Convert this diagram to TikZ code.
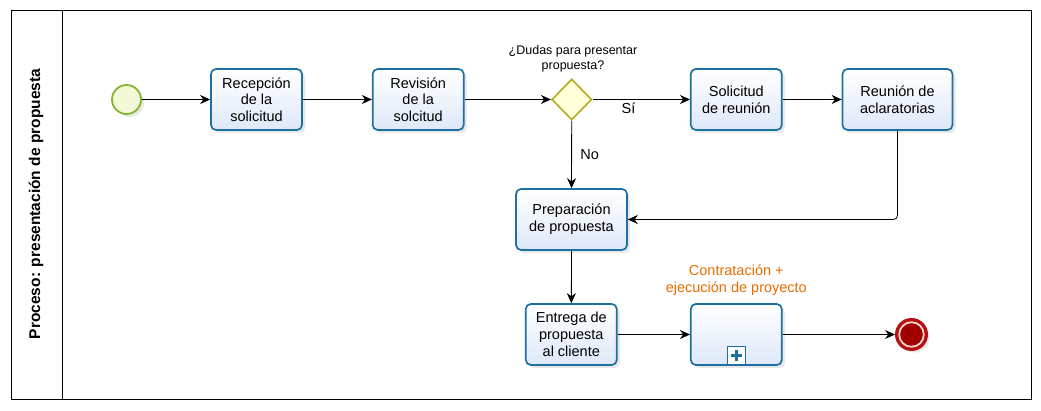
\documentclass[tikz,border=0pt]{standalone}
\usepackage{fontspec}
\setmainfont{Liberation Sans}
\usetikzlibrary{positioning, shapes.geometric, shadows, arrows.meta}

\definecolor{taskline}{RGB}{30,112,162}
\definecolor{taskfill}{RGB}{222,232,249}
\definecolor{startline}{RGB}{134,181,50}
\definecolor{startfill}{RGB}{243,249,214}
\definecolor{gateline}{RGB}{179,172,33}
\definecolor{gatefill}{RGB}{255,255,218}
\definecolor{endfill}{RGB}{160,0,0}
\definecolor{endline}{RGB}{184,16,16}
\definecolor{endring}{RGB}{246,214,214}
\definecolor{labelorange}{RGB}{232,108,0}

\tikzset{
    task/.style={rectangle, rounded corners=5pt, draw=taskline, line width=1.7pt,
        top color=white, bottom color=taskfill, minimum width=91pt, minimum height=61pt,
        align=center, inner sep=2pt, font=\fontsize{14.5}{16.7}\selectfont,
        drop shadow={opacity=0.18, shadow xshift=3pt, shadow yshift=-3pt}},
    startevent/.style={circle, draw=startline, line width=1.8pt, fill=startfill,
        minimum size=29pt, inner sep=0pt,
        drop shadow={opacity=0.18, shadow xshift=3pt, shadow yshift=-3pt}},
    endevent/.style={circle, draw=endline, line width=3pt, fill=endfill,
        minimum size=30pt, inner sep=0pt,
        drop shadow={opacity=0.18, shadow xshift=3pt, shadow yshift=-3pt}},
    gateway/.style={diamond, draw=gateline, line width=1.6pt, fill=gatefill,
        minimum width=40pt, minimum height=41pt, inner sep=0pt},
    flow/.style={-{Stealth[length=10pt, width=9pt]}, line width=0.8pt},
    every edge/.style={draw, flow},
    tasklabel/.style={align=center, font=\fontsize{14.5}{17.5}\selectfont}
}

\begin{document}
\begin{tikzpicture}[x=1pt, y=-1pt, node distance=69pt]

        \useasboundingbox (0,0) rectangle (1041,411);

        % pool
        \draw[line width=0.9pt] (11,10) rectangle (1031,399);
        \draw[line width=0.9pt] (62,10) -- (62,399);
        \node[rotate=90, font=\fontsize{15.5}{18}\selectfont\bfseries] (pool) at (36,204)
            {Proceso: presentación de propuesta};

        % start and first tasks
        \node[startevent] (start) at (126.5,99.5) {};
        \node[task] (recepcion) at (256.5,99.5) {Recepción\\de la\\solicitud};
        \node[task] (revision) [right = 69pt of recepcion] {Revisión\\de la\\solcitud};

        % gateway
        \node[gateway] (dudas) at (571.7,99.5) {};
        \node[align=center, font=\fontsize{12.5}{15}\selectfont] (dudas_label) at (573,59)
            {¿Dudas para presentar\\propuesta?};

        % meeting
        \node[task] (solicitud) at (736.3,99.5) {Solicitud\\de reunión};
        \node[task, minimum width=110pt] (reunion) [right = 59pt of solicitud] {Reunión de\\aclaratorias};

        % proposal
        \node[task, minimum width=111pt] (preparacion) at (571.5,219.5) {Preparación\\de propuesta};
        \node[task] (entrega) at (571.3,334.5) {Entrega de\\propuesta\\al cliente};

        % subprocess
        \node[task] (contratacion) at (736.3,334.5) {};
        \node[tasklabel, text=labelorange] (contratacion_label) [above = 4pt of contratacion]
            {Contratación +\\ejecución de proyecto};
        \node[draw=taskline, line width=1.3pt, fill=white, minimum size=18pt, inner sep=0pt,
            anchor=south] (marker) at ([yshift=0.5pt]contratacion.south) {};
        \draw[taskline, line width=3pt] ([xshift=-5.5pt]marker.center) -- ([xshift=5.5pt]marker.center);
        \draw[taskline, line width=3pt] ([yshift=-5.5pt]marker.center) -- ([yshift=5.5pt]marker.center);

        % end
        \node[endevent] (fin) at (911.5,334.5) {};
        \draw[endring, line width=1.8pt] (fin.center) circle (12.3);

        % paths
        \path(start) edge (recepcion);
        \path(recepcion) edge (revision);
        \path(revision) edge (dudas);
        \path(dudas) edge node[below, pos=0.37, font=\fontsize{14.5}{16}\selectfont] {Sí} (solicitud);
        \path(solicitud) edge (reunion);
        \path(dudas) edge node[right=5pt, midway, font=\fontsize{14.5}{16}\selectfont] {No} (preparacion);
        \draw[flow, rounded corners=4pt] (reunion.south) |- (preparacion.east);
        \path(preparacion) edge (entrega);
        \path(entrega) edge (contratacion);
        \path(contratacion) edge (fin);

    \end{tikzpicture}
\end{document}
